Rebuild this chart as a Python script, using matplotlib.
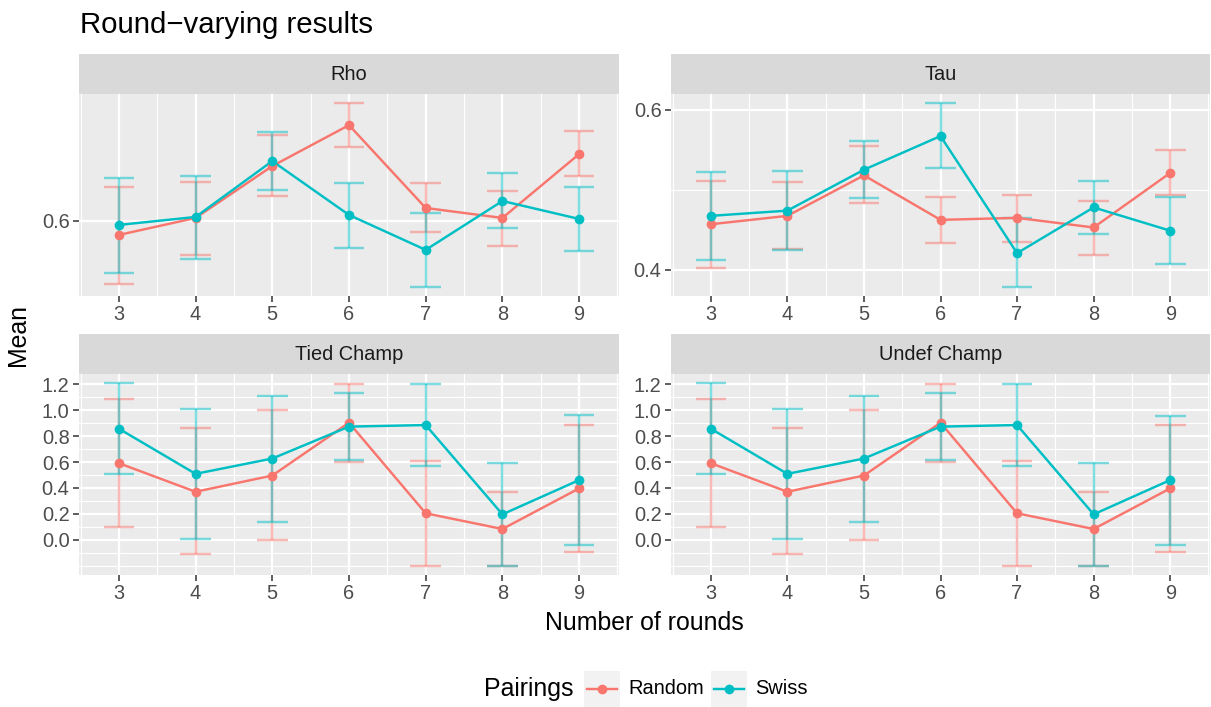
import numpy as np
import matplotlib
matplotlib.use("Agg")
import matplotlib.pyplot as plt
from matplotlib.patches import Rectangle
from matplotlib.lines import Line2D
from matplotlib.ticker import FuncFormatter

plt.rcParams['font.family'] = ['Liberation Sans', 'DejaVu Sans']

# ---------------- data ----------------
rounds = [3, 4, 5, 6, 7, 8, 9]
series_names = ["Random", "Swiss"]
panel_titles = ["Rho", "Tau", "Tied Champ", "Undef Champ"]

rho_random_mean = [0.586, 0.603, 0.655, 0.696, 0.613, 0.603, 0.667]
rho_random_lo   = [0.537, 0.566, 0.625, 0.674, 0.589, 0.575, 0.645]
rho_random_hi   = [0.634, 0.639, 0.686, 0.718, 0.638, 0.630, 0.690]
rho_swiss_mean  = [0.596, 0.604, 0.660, 0.606, 0.571, 0.620, 0.602]
rho_swiss_lo    = [0.548, 0.562, 0.631, 0.573, 0.534, 0.593, 0.570]
rho_swiss_hi    = [0.643, 0.645, 0.689, 0.638, 0.608, 0.648, 0.634]

tau_random_mean = [0.457, 0.4675, 0.518, 0.4625, 0.465, 0.453, 0.521]
tau_random_lo   = [0.402, 0.426, 0.483, 0.434, 0.435, 0.419, 0.493]
tau_random_hi   = [0.511, 0.510, 0.554, 0.491, 0.494, 0.486, 0.550]
tau_swiss_mean  = [0.4675, 0.474, 0.525, 0.567, 0.421, 0.478, 0.449]
tau_swiss_lo    = [0.412, 0.425, 0.490, 0.527, 0.379, 0.445, 0.408]
tau_swiss_hi    = [0.5225, 0.524, 0.561, 0.608, 0.465, 0.511, 0.491]

tied_random_mean = [0.591, 0.371, 0.496, 0.903, 0.205, 0.084, 0.397]
tied_random_lo   = [0.100, -0.110, 0.000, 0.599, -0.200, -0.200, -0.090]
tied_random_hi   = [1.082, 0.860, 0.998, 1.203, 0.609, 0.371, 0.888]
tied_swiss_mean  = [0.857, 0.509, 0.627, 0.873, 0.885, 0.197, 0.461]
tied_swiss_lo    = [0.504, 0.010, 0.141, 0.612, 0.573, -0.200, -0.038]
tied_swiss_hi    = [1.208, 1.011, 1.110, 1.131, 1.205, 0.594, 0.960]

undef_random_mean = [0.591, 0.371, 0.496, 0.903, 0.205, 0.084, 0.397]
undef_random_lo   = [0.100, -0.110, 0.000, 0.599, -0.200, -0.200, -0.090]
undef_random_hi   = [1.082, 0.860, 0.998, 1.203, 0.609, 0.371, 0.885]
undef_swiss_mean  = [0.857, 0.509, 0.627, 0.873, 0.885, 0.197, 0.461]
undef_swiss_lo    = [0.504, 0.010, 0.141, 0.612, 0.566, -0.200, -0.041]
undef_swiss_hi    = [1.208, 1.011, 1.110, 1.131, 1.205, 0.594, 0.957]

y_breaks = [0.0, 0.2, 0.4, 0.6, 0.8, 1.0, 1.2]
x_breaks = [3, 4, 5, 6, 7, 8, 9]

panel_data = [
    [(rho_random_mean, rho_random_lo, rho_random_hi), (rho_swiss_mean, rho_swiss_lo, rho_swiss_hi)],
    [(tau_random_mean, tau_random_lo, tau_random_hi), (tau_swiss_mean, tau_swiss_lo, tau_swiss_hi)],
    [(tied_random_mean, tied_random_lo, tied_random_hi), (tied_swiss_mean, tied_swiss_lo, tied_swiss_hi)],
    [(undef_random_mean, undef_random_lo, undef_random_hi), (undef_swiss_mean, undef_swiss_lo, undef_swiss_hi)],
]

# ---------------- style ----------------
colors = ["#F8766D", "#00BFC4"]
W, H = 1211, 707
fig = plt.figure(figsize=(W / 100, H / 100), dpi=100)

def fx(px):
    return px / W

def fy(py):
    return 1 - py / H

# (left, right, top, bottom) in pixels
panels_px = [(79, 619, 94, 296), (671, 1210, 94, 296),
             (79, 619, 374, 575), (671, 1210, 374, 575)]
strip_h = 40

cap_half = 0.2
lw_line = 1.75
grid_major = 1.6
grid_minor = 0.8
txt_axis = 14.4
txt_strip = 14.4
txt_title = 21.2
txt_axtitle = 17.9
msize = 7.0

for i, (l, r, t, b) in enumerate(panels_px):
    ax = fig.add_axes([fx(l), fy(b), (r - l) / W, (b - t) / H])
    ax.set_facecolor("#EBEBEB")
    for s in ax.spines.values():
        s.set_visible(False)
    x = np.array(rounds, dtype=float)
    # error bars
    for (mean, lo, hi), c in zip(panel_data[i], colors):
        ax.vlines(x, lo, hi, color=c, alpha=0.5, lw=lw_line, zorder=3)
        ax.hlines(lo, x - cap_half, x + cap_half, color=c, alpha=0.5, lw=lw_line, zorder=3)
        ax.hlines(hi, x - cap_half, x + cap_half, color=c, alpha=0.5, lw=lw_line, zorder=3)
    for (mean, lo, hi), c in zip(panel_data[i], colors):
        ax.plot(x, mean, color=c, lw=lw_line, zorder=4, solid_capstyle='butt')
    for (mean, lo, hi), c in zip(panel_data[i], colors):
        ax.plot(x, mean, 'o', color=c, ms=msize, mec='none', zorder=5)
    ax.margins(x=0.05, y=0.05)
    ax.autoscale_view()
    ylo, yhi = ax.get_ylim()
    xlo, xhi = ax.get_xlim()
    maj = [v for v in y_breaks if ylo <= v <= yhi]
    # regular minor breaks (ggplot style)
    mins = []
    if len(maj) >= 2:
        bd = maj[1] - maj[0]
        bb = list(maj)
        if ylo < bb[0]:
            bb = [bb[0] - bd] + bb
        if yhi > bb[-1]:
            bb = bb + [bb[-1] + bd]
        for a, c2 in zip(bb[:-1], bb[1:]):
            mins.append((a + c2) / 2)
        mins += [v for v in bb if v not in maj]
    mins = [v for v in mins if ylo <= v <= yhi]
    ax.set_yticks(maj)
    ax.set_yticks(mins, minor=True)
    ax.set_xticks(x_breaks)
    xmins = [v + 0.5 for v in [2] + x_breaks]
    ax.set_xticks([v for v in xmins if xlo <= v <= xhi], minor=True)
    ax.set_ylim(ylo, yhi)
    ax.set_xlim(xlo, xhi)
    ax.yaxis.set_major_formatter(FuncFormatter(lambda v, p: f"{v:.1f}"))
    ax.grid(which='major', color='white', lw=grid_major, zorder=0)
    ax.grid(which='minor', color='white', lw=grid_minor, zorder=0)
    ax.set_axisbelow(True)
    ax.tick_params(which='major', length=4.3, width=1.1, color='#333333',
                   labelsize=txt_axis, labelcolor='#4D4D4D', pad=2.5)
    ax.tick_params(which='minor', length=0)
    # strip
    sax = fig.add_axes([fx(l), fy(t), (r - l) / W, strip_h / H])
    sax.set_facecolor("#D9D9D9")
    for s in sax.spines.values():
        s.set_visible(False)
    sax.set_xticks([])
    sax.set_yticks([])
    sax.text(0.5, 0.5, panel_titles[i], ha='center', va='center',
             fontsize=txt_strip, color='#1A1A1A', transform=sax.transAxes)

# titles
fig.text(fx(80), fy(33), "Round\u2212varying results", fontsize=txt_title,
         ha='left', va='baseline', color='black')
fig.text(fx(644.5), fy(623), "Number of rounds", fontsize=txt_axtitle,
         ha='center', va='center')
fig.text(fx(18), fy(335), "Mean", fontsize=txt_axtitle, rotation=90,
         ha='center', va='center')

# legend (manual, ggplot style)
ly = 689
fig.text(fx(484), fy(ly), "Pairings", fontsize=txt_axtitle, ha='left', va='center')
key_x = [584, 711]
lab_x = [628, 755]
for kx, tx, c, name in zip(key_x, lab_x, colors, series_names):
    fig.add_artist(Rectangle((fx(kx), fy(ly + 18)), 36 / W, 36 / H,
                             transform=fig.transFigure, facecolor='#F2F2F2',
                             edgecolor='none'))
    fig.add_artist(Line2D([fx(kx + 3), fx(kx + 33)], [fy(ly), fy(ly)],
                          transform=fig.transFigure, color=c, lw=lw_line))
    fig.add_artist(Line2D([fx(kx + 18)], [fy(ly)], transform=fig.transFigure,
                          color=c, marker='o', ms=msize, mec='none', ls='none'))
    fig.text(fx(tx), fy(ly), name, fontsize=txt_axis, ha='left', va='center')

fig.savefig("out.png", dpi=100)
